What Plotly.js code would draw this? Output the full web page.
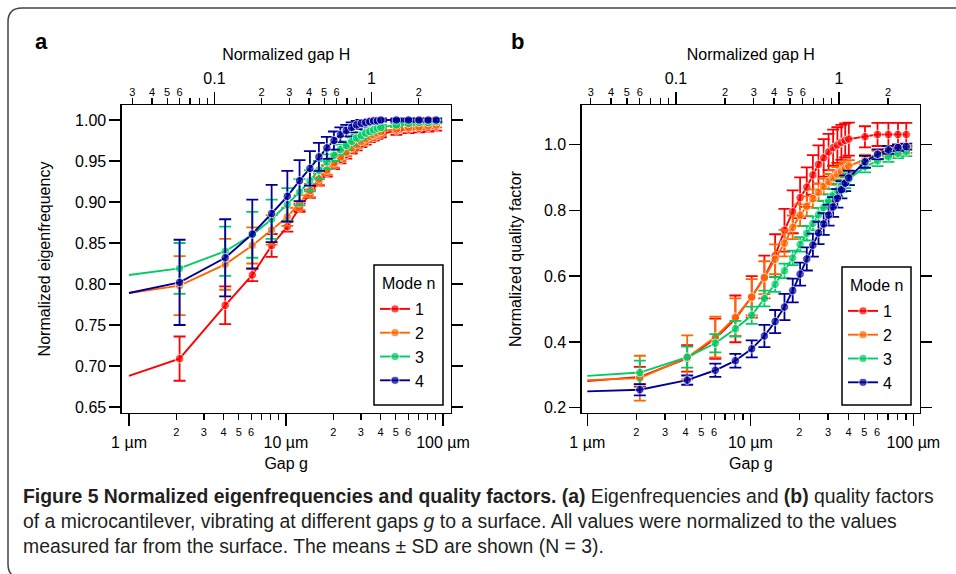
<!DOCTYPE html>
<html><head><meta charset="utf-8">
<script src="https://cdn.plot.ly/plotly-3.0.1.min.js"></script>
<style>html,body{margin:0;padding:0;background:#fff;}#chart{width:956px;height:574px;}</style>
</head><body><div id="chart"></div>
<script>
// ---- data ----
const gapUm = [1, 2.1, 4.1, 6.1, 8.1, 10.2, 12.2, 14.2, 16.2, 18.2, 20.2, 22.2, 24.2, 26.2, 28.2, 30.2, 32.2, 34.2, 36.2, 38.2, 40.2, 50.5, 60.3, 70.3, 80.5, 90.5];
const modeNames = ['1', '2', '3', '4'];
const gapScaleUm = 35; // H = g / gapScaleUm

// normalized eigenfrequency (panel a)
const freqMode1 = [0.688, 0.709, 0.774, 0.811, 0.847, 0.870, 0.893, 0.910, 0.925, 0.936, 0.945, 0.952, 0.958, 0.963, 0.967, 0.971, 0.974, 0.977, 0.979, 0.981, 0.983, 0.987, 0.989, 0.990, 0.991, 0.992];
const freqMode2 = [0.789, 0.798, 0.824, 0.847, 0.866, 0.882, 0.899, 0.914, 0.928, 0.939, 0.948, 0.955, 0.961, 0.966, 0.970, 0.974, 0.977, 0.980, 0.982, 0.984, 0.986, 0.989, 0.991, 0.992, 0.993, 0.994];
const freqMode3 = [0.811, 0.819, 0.840, 0.860, 0.879, 0.897, 0.912, 0.926, 0.939, 0.949, 0.957, 0.964, 0.969, 0.974, 0.978, 0.981, 0.984, 0.986, 0.988, 0.990, 0.991, 0.994, 0.996, 0.997, 0.997, 0.998];
const freqMode4 = [0.789, 0.802, 0.832, 0.861, 0.886, 0.907, 0.926, 0.941, 0.955, 0.966, 0.975, 0.982, 0.987, 0.991, 0.994, 0.996, 0.997, 0.998, 0.999, 0.999, 1.000, 1.000, 1.000, 1.000, 1.000, 1.000];
const freqSd1 = [null, 0.027, 0.023, 0.0075, 0.014, 0.006, 0.005, 0.005, 0.005, 0.005, 0.005, 0.005, 0.005, 0.004, 0.004, 0.004, 0.004, 0.004, 0.004, 0.004, 0.004, 0.005, 0.005, 0.005, 0.005, 0.005];
const freqSd2 = [null, 0.036, 0.031, 0.022, 0.018, 0.011, 0.009, 0.008, 0.007, 0.006, 0.006, 0.005, 0.005, 0.005, 0.004, 0.004, 0.004, 0.004, 0.004, 0.004, 0.004, 0.003, 0.003, 0.003, 0.003, 0.003];
const freqSd3 = [null, 0.031, 0.030, 0.028, 0.024, 0.020, 0.016, 0.013, 0.011, 0.009, 0.007, 0.006, 0.005, 0.005, 0.004, 0.004, 0.003, 0.003, 0.003, 0.003, 0.003, 0.002, 0.002, 0.002, 0.002, 0.002];
const freqSd4 = [null, 0.052, 0.047, 0.042, 0.035, 0.031, 0.025, 0.021, 0.017, 0.0135, 0.011, 0.009, 0.007, 0.006, 0.005, 0.004, 0.003, 0.003, 0.003, 0.002, 0.002, 0.002, 0.002, 0.002, 0.002, 0.002];

// normalized quality factor (panel b)
const qMode1 = [0.281, 0.294, 0.350, 0.410, 0.470, 0.537, 0.597, 0.662, 0.739, 0.795, 0.838, 0.870, 0.907, 0.939, 0.959, 0.977, 0.990, 0.998, 1.006, 1.012, 1.016, 1.023, 1.030, 1.030, 1.030, 1.030];
const qMode2 = [0.284, 0.290, 0.353, 0.415, 0.475, 0.536, 0.595, 0.651, 0.700, 0.748, 0.785, 0.812, 0.835, 0.855, 0.872, 0.887, 0.899, 0.910, 0.919, 0.927, 0.934, 0.954, 0.967, 0.975, 0.980, 0.984];
const qMode3 = [0.297, 0.307, 0.354, 0.396, 0.440, 0.481, 0.532, 0.575, 0.616, 0.655, 0.696, 0.730, 0.760, 0.786, 0.808, 0.828, 0.846, 0.861, 0.874, 0.885, 0.894, 0.932, 0.950, 0.962, 0.972, 0.977];
const qMode4 = [0.250, 0.255, 0.284, 0.314, 0.343, 0.379, 0.418, 0.462, 0.506, 0.556, 0.606, 0.652, 0.694, 0.731, 0.758, 0.785, 0.810, 0.836, 0.862, 0.882, 0.898, 0.947, 0.970, 0.983, 0.990, 0.993];
const qSd1 = [null, 0.030, 0.040, 0.061, 0.071, 0.063, 0.065, 0.065, 0.065, 0.065, 0.062, 0.060, 0.060, 0.058, 0.057, 0.055, 0.055, 0.054, 0.053, 0.052, 0.050, 0.032, 0.035, 0.035, 0.035, 0.035];
const qSd2 = [null, 0.068, 0.067, 0.062, 0.057, 0.055, 0.050, 0.045, 0.040, 0.036, 0.033, 0.030, 0.028, 0.026, 0.024, 0.023, 0.022, 0.021, 0.020, 0.019, 0.018, 0.015, 0.013, 0.012, 0.011, 0.010];
const qSd3 = [null, 0.036, 0.032, 0.028, 0.024, 0.026, 0.024, 0.023, 0.022, 0.022, 0.022, 0.022, 0.021, 0.021, 0.020, 0.020, 0.019, 0.019, 0.018, 0.018, 0.018, 0.017, 0.016, 0.015, 0.014, 0.013];
const qSd4 = [null, 0.017, 0.014, 0.020, 0.021, 0.026, 0.034, 0.035, 0.040, 0.036, 0.035, 0.035, 0.035, 0.034, 0.033, 0.032, 0.030, 0.028, 0.026, 0.024, 0.022, 0.018, 0.015, 0.012, 0.010, 0.009];

// tick labels
const gapMajorVals = [1, 10, 100];
const gapMajorText = ['1 µm', '10 µm', '100 µm'];
const gapMinorVals = [2, 3, 4, 5, 6, 7, 8, 9, 20, 30, 40, 50, 60, 70, 80, 90];
const gapMinorText = ['2', '3', '4', '5', '6', '', '', '', '2', '3', '4', '5', '6', '', '', ''];
const hMajorVals = [0.1, 1];
const hMajorText = ['0.1', '1'];
const hMinorVals = [0.03, 0.04, 0.05, 0.06, 0.07, 0.08, 0.09, 0.2, 0.3, 0.4, 0.5, 0.6, 0.7, 0.8, 0.9, 2];
const hMinorText = ['3', '4', '5', '6', '', '', '', '2', '3', '4', '5', '6', '', '', '', '2'];
const freqTicks = [0.65, 0.70, 0.75, 0.80, 0.85, 0.90, 0.95, 1.00];
const qTicks = [0.2, 0.4, 0.6, 0.8, 1.0];

// ---- styling ----
const W = 956, H = 574;
const colors = ['rgb(255,0,0)', 'rgb(255,102,0)', 'rgb(0,204,102)', 'rgb(0,0,153)'];
const FONT = 'Liberation Sans, Arial, Helvetica, sans-serif';
const px = v => v / W, py = v => 1 - v / H;

const freqSeries = [freqMode1, freqMode2, freqMode3, freqMode4];
const freqSds = [freqSd1, freqSd2, freqSd3, freqSd4];
const qSeries = [qMode1, qMode2, qMode3, qMode4];
const qSds = [qSd1, qSd2, qSd3, qSd4];

function makeTrace(ys, sds, i, xa, ya, legend) {
  return {
    type: 'scatter', mode: 'lines+markers', name: modeNames[i],
    x: gapUm, y: ys, xaxis: xa, yaxis: ya, legend: legend,
    line: {color: colors[i], width: 1.9},
    marker: {color: colors[i], size: sds.map(s => s === null ? 0 : 8.5)},
    error_y: {type: 'data', visible: true, array: sds.map(s => s === null ? NaN : s),
              color: colors[i], thickness: 1.8, width: 6}
  };
}

const traces = [];
for (let i = 0; i < 4; i++) traces.push(makeTrace(freqSeries[i], freqSds[i], i, 'x', 'y', 'legend'));
for (let i = 0; i < 4; i++) traces.push(makeTrace(qSeries[i], qSds[i], i, 'x5', 'y2', 'legend2'));
// empty carriers so the overlaid tick axes are drawn
[['x2', 'y'], ['x3', 'y'], ['x4', 'y'], ['x6', 'y2'], ['x7', 'y2'], ['x8', 'y2']].forEach(([xa, ya]) =>
  traces.push({type: 'scatter', mode: 'markers', x: [null], y: [null], xaxis: xa, yaxis: ya, showlegend: false, hoverinfo: 'skip'}));

const yDom = [1 - 413 / H, 1 - 105 / H];
const panels = [
  {dom: [px(121.7), px(450.7)], range: [-0.0465, 2.049], ids: ['', '2', '3', '4'], y: 'y'},
  {dom: [px(581.7), px(920)], range: [-0.0343, 2.0408], ids: ['5', '6', '7', '8'], y: 'y2'}
];

// legend boxes (frame + title) in pixel coordinates of the page
const legendBoxes = [{x0: 374, x1: 443, y0: 265, y1: 405}, {x0: 842, x1: 911, y0: 267, y1: 405}];

const layout = {
  width: W, height: H, margin: {l: 0, r: 0, t: 0, b: 0},
  paper_bgcolor: '#fff', plot_bgcolor: '#fff',
  font: {family: FONT, color: '#000', size: 16},
  showlegend: true,
  shapes: [{
    type: 'path', xref: 'paper', yref: 'paper', line: {color: '#444', width: 1.5},
    path: `M ${px(22)},${py(578)} Q ${px(8)},${py(578)} ${px(8)},${py(564)} L ${px(8)},${py(22)} Q ${px(8)},${py(8)} ${px(22)},${py(8)} L ${px(962)},${py(8)}`
  }],
  annotations: [
    {text: '<b>a</b>', x: px(41), y: py(42), xref: 'paper', yref: 'paper', showarrow: false, font: {size: 22}, xanchor: 'center', yanchor: 'middle'},
    {text: '<b>b</b>', x: px(517), y: py(42), xref: 'paper', yref: 'paper', showarrow: false, font: {size: 22}, xanchor: 'center', yanchor: 'middle'},
    {text: '<b>Figure 5 Normalized eigenfrequencies and quality factors.</b> <b>(a)</b> Eigenfrequencies and <b>(b)</b> quality factors<br>of a microcantilever, vibrating at different gaps <i>g</i> to a surface. All values were normalized to the values<br>measured far from the surface. The means ± SD are shown (N = 3).',
     x: px(21), y: py(483), xref: 'paper', yref: 'paper', showarrow: false, xanchor: 'left', yanchor: 'top', align: 'left',
     font: {family: FONT, size: 19.4, color: '#231f20'}}
  ]
};

legendBoxes.forEach((b, k) => {
  layout.shapes.push({type: 'rect', xref: 'paper', yref: 'paper', x0: px(b.x0), x1: px(b.x1), y0: py(b.y1), y1: py(b.y0),
    line: {color: '#000', width: 1.5}, fillcolor: '#fff', layer: 'above'});
  layout.annotations.push({text: 'Mode n', xref: 'paper', yref: 'paper', x: px((b.x0 + b.x1) / 2), y: py(b.y0 + 18),
    showarrow: false, xanchor: 'center', yanchor: 'middle', font: {size: 16}});
  layout[k === 0 ? 'legend' : 'legend2'] = {x: px(b.x0 + 1), y: py(b.y0 + 27), xanchor: 'left', yanchor: 'top',
    borderwidth: 0, bgcolor: 'rgba(0,0,0,0)', font: {size: 16}, itemwidth: 30, tracegroupgap: 0};
});

const axCommon = {showgrid: false, zeroline: false, tickcolor: '#000', tickwidth: 1.3, linecolor: '#000', linewidth: 1.3, tickmode: 'array'};
panels.forEach(p => {
  const base = 'x' + p.ids[0];
  const shift = Math.log10(gapScaleUm);
  const hRange = [p.range[0] - shift, p.range[1] - shift];
  const key = id => 'xaxis' + id;
  layout[key(p.ids[0])] = Object.assign({}, axCommon, {
    type: 'log', domain: p.dom, range: p.range, anchor: p.y, showline: true, mirror: true,
    ticks: 'outside', ticklen: 12, tickvals: gapMajorVals, ticktext: gapMajorText, tickfont: {size: 16},
    ticklabelstandoff: 2, title: {text: 'Gap g', font: {size: 16}, standoff: 8}
  });
  layout[key(p.ids[1])] = Object.assign({}, axCommon, {
    type: 'log', domain: p.dom, range: p.range, anchor: p.y, overlaying: base, side: 'bottom', showline: false,
    ticks: 'outside', ticklen: 6, tickvals: gapMinorVals, ticktext: gapMinorText, tickfont: {size: 11}, ticklabelstandoff: 3
  });
  layout[key(p.ids[2])] = Object.assign({}, axCommon, {
    type: 'log', domain: p.dom, range: hRange, anchor: p.y, overlaying: base, side: 'top', showline: false,
    ticks: 'outside', ticklen: 12, tickvals: hMajorVals, ticktext: hMajorText, tickfont: {size: 16},
    ticklabelstandoff: 2, title: {text: 'Normalized gap H', font: {size: 16}, standoff: 4}
  });
  layout[key(p.ids[3])] = Object.assign({}, axCommon, {
    type: 'log', domain: p.dom, range: hRange, anchor: p.y, overlaying: base, side: 'top', showline: false,
    ticks: 'outside', ticklen: 6, tickvals: hMinorVals, ticktext: hMinorText, tickfont: {size: 11}, ticklabelstandoff: -2
  });
});

layout.yaxis = Object.assign({}, axCommon, {
  domain: yDom, range: [0.6427, 1.0183], anchor: 'x', showline: true, mirror: 'ticks',
  ticks: 'outside', ticklen: 11, tickvals: freqTicks, tickformat: '.2f', tickfont: {size: 16},
  title: {text: 'Normalized eigenfrequency', font: {size: 16}, standoff: 20}
});
layout.yaxis2 = Object.assign({}, axCommon, {
  domain: yDom, range: [0.1842, 1.1195], anchor: 'x5', showline: true, mirror: 'ticks',
  ticks: 'outside', ticklen: 11, tickvals: qTicks, tickformat: '.1f', tickfont: {size: 16},
  title: {text: 'Normalized quality factor', font: {size: 16}, standoff: 18}
});

Plotly.newPlot('chart', traces, layout, {staticPlot: true, displayModeBar: false});
</script></body></html>
